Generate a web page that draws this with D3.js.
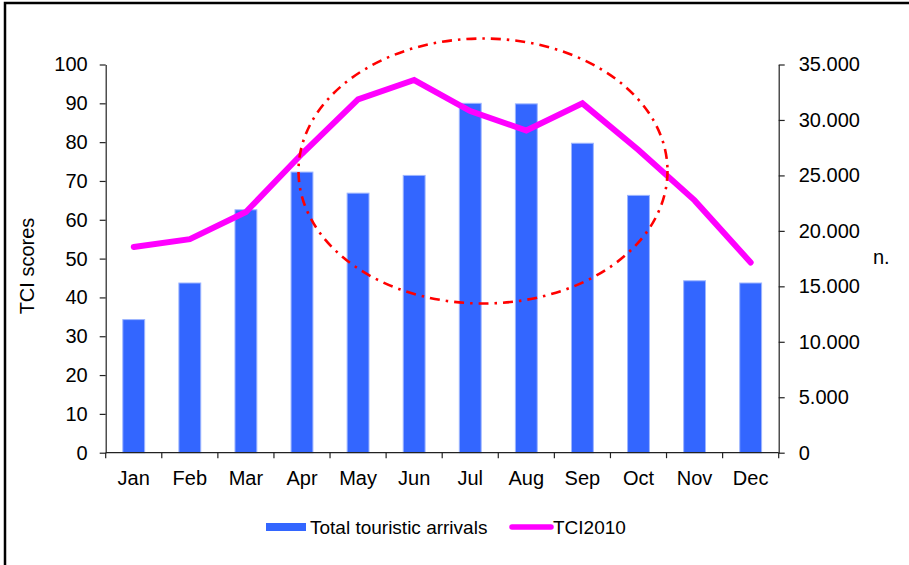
<!DOCTYPE html>
<html>
<head>
<meta charset="utf-8">
<script src="https://cdn.jsdelivr.net/npm/d3@7"></script>
<style>
  html, body { margin: 0; padding: 0; background: #fff; }
  svg { display: block; }
  text { font-family: "Liberation Sans", Arial, Helvetica, sans-serif; fill: #000; }
</style>
</head>
<body>
<svg id="chart" width="909" height="565"></svg>
<script>
// Monthly data
const months = ["Jan", "Feb", "Mar", "Apr", "May", "Jun", "Jul", "Aug", "Sep", "Oct", "Nov", "Dec"];
const arrivals = [12000, 15300, 21900, 25300, 23400, 25000, 31500, 31450, 27900, 23200, 15500, 15300];
const tci2010 = [53, 55, 62, 77, 91, 96, 88, 83, 90, 78, 65, 49];
const leftTicks = [0, 10, 20, 30, 40, 50, 60, 70, 80, 90, 100];
const rightTicks = [0, 5000, 10000, 15000, 20000, 25000, 30000, 35000];
const seriesNames = ["Total touristic arrivals", "TCI2010"];

const svg = d3.select("#chart");
const W = 909, H = 565;
const plot = { left: 105.7, right: 778.7, top: 64.5, bottom: 452.7 };

const barColor = "#3366ff";
const lineColor = "#ff00ff";
const axisColor = "#222";

// figure frame (top and left edges)
svg.append("path")
  .attr("d", `M5,${H} L5,3 L${W},3`)
  .attr("fill", "none")
  .attr("stroke", "#000")
  .attr("stroke-width", 2.5);

const x = d3.scaleBand().domain(months).range([plot.left, plot.right]).paddingInner(0).paddingOuter(0);
const yL = d3.scaleLinear().domain([0, 100]).range([plot.bottom, plot.top]);
const yR = d3.scaleLinear().domain([0, 35000]).range([plot.bottom, plot.top]);

const fmtThousands = d3.formatLocale({ decimal: ",", thousands: ".", grouping: [3], currency: ["", ""] }).format(",d");

// bars: arrivals on right axis
const barW = x.bandwidth() * 0.39;
svg.append("g").selectAll("rect")
  .data(months)
  .join("rect")
  .attr("x", (m) => x(m) + (x.bandwidth() - barW) / 2)
  .attr("y", (m, i) => yR(arrivals[i]))
  .attr("width", barW)
  .attr("height", (m, i) => plot.bottom - yR(arrivals[i]))
  .attr("fill", barColor)
  .attr("stroke", "#9db5ff")
  .attr("stroke-width", 1);

// axes
const gL = svg.append("g")
  .attr("transform", `translate(${plot.left},0)`)
  .call(d3.axisLeft(yL).tickValues(leftTicks).tickSize(6).tickSizeOuter(0).tickPadding(12));
const gR = svg.append("g")
  .attr("transform", `translate(${plot.right},0)`)
  .call(d3.axisRight(yR).tickValues(rightTicks).tickFormat(fmtThousands).tickSize(6).tickSizeOuter(0).tickPadding(14));

[gL, gR].forEach((g) => {
  g.select(".domain").attr("stroke", axisColor).attr("stroke-width", 1.2);
  g.selectAll(".tick line").attr("stroke", axisColor).attr("stroke-width", 1.2);
  g.selectAll(".tick text").style("font-size", "20px")
    .style("font-family", "'Liberation Sans', Arial, Helvetica, sans-serif").attr("fill", "#000");
});

// x axis: baseline, boundary ticks, month labels
const gX = svg.append("g");
gX.append("line")
  .attr("x1", plot.left).attr("x2", plot.right)
  .attr("y1", plot.bottom).attr("y2", plot.bottom)
  .attr("stroke", axisColor).attr("stroke-width", 1.2);
const bounds = months.map((m) => x(m)).concat([plot.right]);
gX.selectAll("line.tk")
  .data(bounds)
  .join("line")
  .attr("class", "tk")
  .attr("x1", (d) => d).attr("x2", (d) => d)
  .attr("y1", plot.bottom).attr("y2", plot.bottom + 5.5)
  .attr("stroke", axisColor).attr("stroke-width", 1.2);
gX.selectAll("text")
  .data(months)
  .join("text")
  .attr("x", (m) => x(m) + x.bandwidth() / 2)
  .attr("y", 484.5)
  .attr("text-anchor", "middle")
  .style("font-size", "20px")
  .text((m) => m);

// axis titles
svg.append("text")
  .attr("transform", "translate(34,266) rotate(-90)")
  .attr("text-anchor", "middle")
  .style("font-size", "20px")
  .text("TCI scores");
svg.append("text")
  .attr("x", 873).attr("y", 264)
  .style("font-size", "20px")
  .text("n.");

// TCI line on left axis
const line = d3.line()
  .x((d, i) => x(months[i]) + x.bandwidth() / 2)
  .y((d) => yL(d));
svg.append("path")
  .datum(tci2010)
  .attr("d", line)
  .attr("fill", "none")
  .attr("stroke", lineColor)
  .attr("stroke-width", 6)
  .attr("stroke-linejoin", "miter")
  .attr("stroke-linecap", "round");

// highlight ellipse around the summer peak
svg.append("ellipse")
  .attr("cx", 483).attr("cy", 171)
  .attr("rx", 184.5).attr("ry", 132.5)
  .attr("fill", "none")
  .attr("stroke", "#ff0000")
  .attr("stroke-width", 2.6)
  .attr("stroke-dasharray", "10,6,2.5,6");

// legend
const lg = svg.append("g");
lg.append("rect")
  .attr("x", 266).attr("y", 523).attr("width", 40).attr("height", 8)
  .attr("fill", barColor);
lg.append("text")
  .attr("x", 310).attr("y", 533.5)
  .style("font-size", "19px")
  .text(seriesNames[0]);
lg.append("line")
  .attr("x1", 512).attr("x2", 551).attr("y1", 527).attr("y2", 527)
  .attr("stroke", lineColor).attr("stroke-width", 5.5).attr("stroke-linecap", "round");
lg.append("text")
  .attr("x", 553).attr("y", 533.5)
  .style("font-size", "19px")
  .text(seriesNames[1]);
</script>
</body>
</html>
